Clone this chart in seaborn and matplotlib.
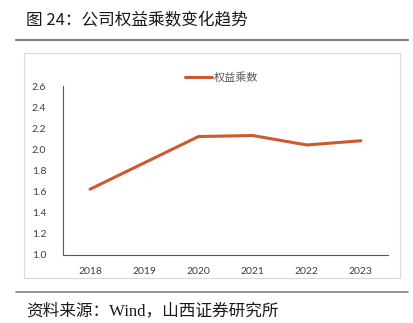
import matplotlib
matplotlib.use("Agg")
import matplotlib.pyplot as plt
import seaborn as sns
import pandas as pd
from matplotlib.patches import Rectangle
from matplotlib.lines import Line2D

years = ["2018", "2019", "2020", "2021", "2022", "2023"]
equity_multiplier = [1.62, 1.87, 2.12, 2.13, 2.04, 2.08]
series_name = "权益乘数"
yticks = [1.0, 1.2, 1.4, 1.6, 1.8, 2.0, 2.2, 2.4, 2.6]
title = "图 24：公司权益乘数变化趋势"
source = "资料来源：Wind，山西证券研究所"

sns.set_theme(style="white")
plt.rcParams['font.family'] = ['Lato', 'Noto Sans CJK SC', 'DejaVu Sans']

W, H = 414, 323
fig = plt.figure(figsize=(W / 100, H / 100), dpi=100)

def fx(px):
    return px / W

def fy(py):
    return 1 - py / H

# chart frame
fig.patches.append(Rectangle((fx(24), fy(278)), fx(400) - fx(24), fy(53) - fy(278),
                             transform=fig.transFigure, fill=False,
                             edgecolor="#d9d9d9", linewidth=0.8))
# title and rules
fig.text(fx(26), fy(21), title, fontsize=12, color="#1a1a1a", va="center", ha="left",
         family=['Noto Sans CJK SC', 'DejaVu Sans'])
fig.add_artist(Line2D([fx(16), fx(408)], [fy(40), fy(40)], transform=fig.transFigure,
                      color="#7f7f7f", linewidth=1.5))
fig.add_artist(Line2D([fx(16), fx(408)], [fy(292), fy(292)], transform=fig.transFigure,
                      color="#7f7f7f", linewidth=1.2))
fig.text(fx(26), fy(311), source, fontsize=12, color="#1a1a1a", va="center", ha="left",
         family=['Liberation Serif', 'Noto Sans CJK SC'])

ax = fig.add_axes([fx(63), fy(254.5), fx(388) - fx(63), fy(86) - fy(254.5)])
df = pd.DataFrame({"year": years, "value": equity_multiplier})
sns.lineplot(data=df, x="year", y="value", ax=ax, color="#CB5A2E", linewidth=2.2,
             label=series_name, sort=False)

ax.set_xlim(-0.5, len(years) - 0.5)
ax.set_ylim(1.0, 2.6)
ax.set_yticks(yticks)
ax.set_yticklabels([f"{v:.1f}" for v in yticks])
ax.set_xticks([i - 0.5 for i in range(len(years) + 1)])
ax.set_xticklabels([])
ax.set_xticks(range(len(years)), minor=True)
ax.set_xticklabels(years, minor=True)
ax.tick_params(axis="x", which="major", direction="in", length=3, color="#595959", width=0.8)
ax.tick_params(axis="x", which="minor", length=0, pad=9, labelsize=7.5, labelcolor="#404040")
ax.tick_params(axis="y", which="major", direction="in", length=3, color="#595959", width=0.8,
               labelsize=7.5, labelcolor="#404040", pad=12)
ax.set_xlabel("")
ax.set_ylabel("")
for s in ["top", "right"]:
    ax.spines[s].set_visible(False)
for s in ["left", "bottom"]:
    ax.spines[s].set_color("#595959")
    ax.spines[s].set_linewidth(0.8)
ax.set_facecolor("none")

leg = ax.legend(loc="center", bbox_to_anchor=(fx(222), fy(78)), bbox_transform=fig.transFigure,
                frameon=False, fontsize=8, handlelength=2.4, handletextpad=0.2)
for t in leg.get_texts():
    t.set_color("#595959")
    t.set_family(['Noto Sans CJK SC', 'DejaVu Sans'])

fig.savefig("out.png", dpi=100)
